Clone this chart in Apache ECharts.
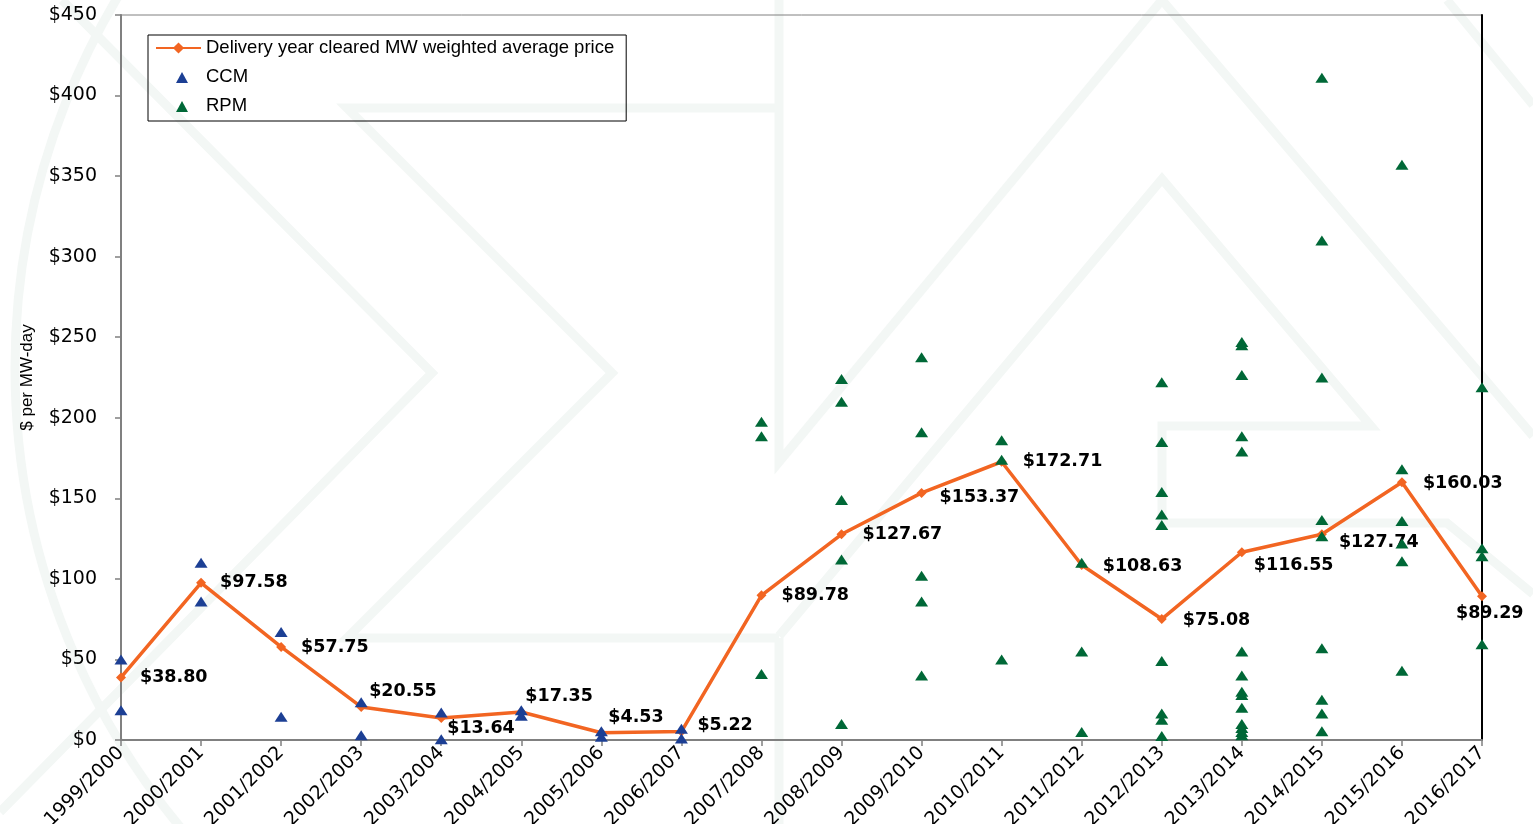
<!DOCTYPE html>
<html>
<head>
<meta charset="utf-8">
<title>Capacity market clearing prices</title>
<script src="https://cdn.jsdelivr.net/npm/echarts@6.0.0/dist/echarts.min.js"></script>
<style>
  html, body { margin: 0; padding: 0; background: #fff; }
  #main { width: 1533px; height: 824px; }
</style>
</head>
<body>
<div id="main"></div>
<script>
var deliveryYears = ['1999/2000', '2000/2001', '2001/2002', '2002/2003', '2003/2004', '2004/2005',
  '2005/2006', '2006/2007', '2007/2008', '2008/2009', '2009/2010', '2010/2011', '2011/2012',
  '2012/2013', '2013/2014', '2014/2015', '2015/2016', '2016/2017'];

// delivery year cleared MW weighted average price
var avgPrice = [38.80, 97.58, 57.75, 20.55, 13.64, 17.35, 4.53, 5.22, 89.78, 127.67,
  153.37, 172.71, 108.63, 75.08, 116.55, 127.74, 160.03, 89.29];

// CCM prices, one list per year from 1999/2000
var ccmPrices = [
  [50, 18.5],
  [110, 86],
  [67, 14.5],
  [23.5, 3],
  [17, 0.5],
  [18.5, 15],
  [5.5, 2],
  [7, 1]
];

// RPM prices, one list per year from 2007/2008
var rpmPrices = [
  [197.5, 188.5, 41],
  [224, 210, 149, 112, 10],
  [237.5, 191, 102, 86, 40],
  [186, 174, 50],
  [110, 55, 5],
  [222, 185, 154, 140, 133.5, 49, 16.5, 12.5, 2.5],
  [247, 245, 226.5, 188.5, 179, 55, 40, 30, 28, 20, 10, 7.5, 5, 3],
  [411, 310, 225, 136.5, 126.5, 57, 25, 16.5, 5.5],
  [357, 168, 136, 122, 111, 43],
  [219, 119, 114, 59.5]
];

// where each price label sits relative to its point
var labelShift = [[14, 0], [14, 0], [15, 0], [3, -15], [1, 10], [-1, -16], [2, -15], [11, -6],
  [15, 0], [16, 0], [13, 5], [16, 0], [16, 1], [16, 1], [7, 13], [12, 8], [16, 1], [-31, 17]];

var lineName = 'Delivery year cleared MW weighted average price';

function toPoints(lists, firstYear) {
  var out = [];
  lists.forEach(function (vals, i) {
    vals.forEach(function (v) {
      out.push([deliveryYears[firstYear + i], v]);
    });
  });
  return out;
}

// faint logo watermark behind the chart
var markColor = '#f3f7f5';
function mark(points) {
  return {
    type: 'polyline', silent: true, z: -1,
    shape: { points: points },
    style: { stroke: markColor, lineWidth: 9, fill: null }
  };
}
var watermark = [
  mark([[62, 0], [432, 373], [0, 812]]),
  mark([[779, 108], [347, 108], [612, 373], [347, 638], [779, 638]]),
  mark([[779, 0], [779, 462], [1162, 0]]),
  mark([[779, 638], [779, 824]]),
  mark([[779, 636], [1162, 179], [1371, 426], [1162, 426], [1162, 523], [1447, 523], [1533, 594]]),
  mark([[1162, 0], [1533, 436]]),
  mark([[1447, 0], [1533, 105]]),
  {
    type: 'arc', silent: true, z: -1,
    shape: { cx: 735, cy: 368, r: 720, startAngle: Math.PI * 0.62, endAngle: Math.PI * 1.4 },
    style: { stroke: markColor, lineWidth: 9, fill: null }
  }
];

var triIcon = 'path://M0,0M45,14M20,13L26,2L32,13Z';

var myChart = echarts.init(document.getElementById('main'));
var option = {
  backgroundColor: '#fff',
  animation: false,
  graphic: { elements: watermark },
  grid: {
    left: 121, right: 51, top: 15, bottom: 84,
    show: true, borderColor: '#808080', borderWidth: 1,
    outerBoundsMode: 'none'
  },
  legend: {
    orient: 'vertical',
    left: 148, top: 35,
    padding: [3, 12, 5, 7],
    itemWidth: 45, itemHeight: 14, itemGap: 9,
    borderColor: '#000', borderWidth: 1,
    textStyle: { fontFamily: 'Liberation Sans', fontSize: 18.5, color: '#000', lineHeight: 20 },
    data: [
      { name: lineName },
      { name: 'CCM', icon: triIcon },
      { name: 'RPM', icon: triIcon }
    ]
  },
  xAxis: {
    type: 'category',
    data: deliveryYears,
    boundaryGap: false,
    axisLine: { lineStyle: { color: '#808080', width: 2 } },
    axisTick: { show: true, length: 6, lineStyle: { color: '#808080', width: 1.5 } },
    axisLabel: {
      interval: 0, rotate: 45, margin: 10,
      fontFamily: 'DejaVu Sans', fontSize: 19, color: '#000'
    },
    splitLine: { show: false }
  },
  yAxis: [{
    type: 'value',
    min: 0, max: 450, interval: 50,
    name: '$ per MW-day',
    nameLocation: 'middle',
    nameGap: 85,
    nameTextStyle: { fontFamily: 'Liberation Sans', fontSize: 17, color: '#000' },
    axisLine: { show: true, lineStyle: { color: '#808080', width: 2 } },
    axisTick: { show: true, length: 6, lineStyle: { color: '#808080', width: 1.5 } },
    axisLabel: {
      margin: 24, fontFamily: 'DejaVu Sans', fontSize: 19, color: '#000',
      formatter: function (v) { return '$' + v; }
    },
    splitLine: { show: false }
  }, {
    type: 'value',
    position: 'right',
    min: 0, max: 450, interval: 50,
    axisLine: { show: true, onZero: false, lineStyle: { color: '#000', width: 2 } },
    axisTick: { show: false },
    axisLabel: { show: false },
    splitLine: { show: false }
  }],
  series: [{
    name: lineName,
    type: 'line',
    data: avgPrice.map(function (v, i) {
      return { value: v, label: { offset: labelShift[i] } };
    }),
    symbol: 'diamond',
    symbolSize: 10,
    lineStyle: { color: '#f26522', width: 3.5 },
    itemStyle: { color: '#f26522' },
    label: {
      show: true, position: 'right', distance: 0,
      fontFamily: 'DejaVu Sans', fontWeight: 'bold', fontSize: 17.5, color: '#000',
      formatter: function (p) { return '$' + p.value.toFixed(2); }
    },
    z: 2
  }, {
    name: 'CCM',
    type: 'scatter',
    data: toPoints(ccmPrices, 0),
    symbol: 'triangle',
    symbolSize: [13, 10],
    itemStyle: { color: '#1c3f94', opacity: 1 },
    z: 3
  }, {
    name: 'RPM',
    type: 'scatter',
    data: toPoints(rpmPrices, 8),
    symbol: 'triangle',
    symbolSize: [13, 10],
    itemStyle: { color: '#006837', opacity: 1 },
    z: 3
  }]
};
myChart.setOption(option);
</script>
</body>
</html>
